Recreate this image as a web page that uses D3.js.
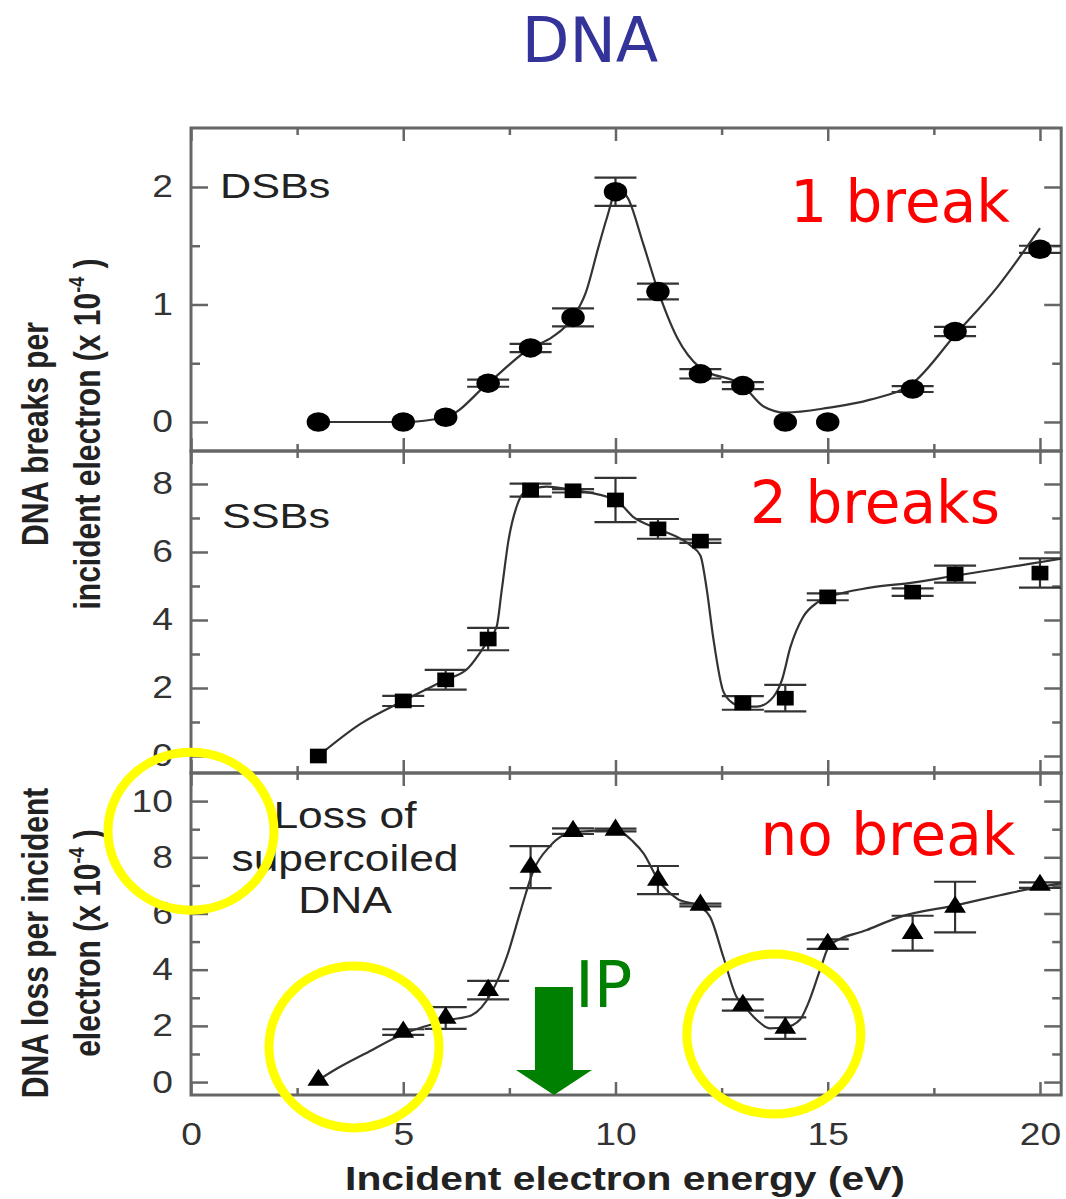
<!DOCTYPE html>
<html>
<head>
<meta charset="utf-8">
<script src="https://cdn.jsdelivr.net/npm/d3@7"></script>
<style>
  html, body { margin: 0; padding: 0; background: #fff; }
  svg { display: block; }
</style>
</head>
<body>
<svg id="chart" width="1066" height="1199"></svg>
<script>
// ---- values ----
const energy = [3, 5, 6, 7, 8, 9, 10, 11, 12, 13, 14, 15, 17, 18, 20];

// DSBs (x 10^-4)
const dsbValues = [0, 0, 0.04, 0.33, 0.63, 0.89, 1.96, 1.11, 0.41, 0.31, 0, 0, 0.28, 0.77, 1.47];
const dsbErrors = [0, 0, 0, 0.03, 0.035, 0.077, 0.12, 0.067, 0.04, 0.03, 0, 0, 0.025, 0.04, 0.03];
const dsbFitX = [3, 5, 6, 7, 8, 8.5, 9, 9.3, 9.6, 9.8, 10.05, 10.3, 10.65, 11, 11.45, 12, 13, 13.5, 14, 15, 16, 17, 18, 19, 20];
const dsbFitY = [0, 0, 0.04, 0.33, 0.63, 0.72, 0.89, 1.1, 1.49, 1.74, 1.99, 1.9, 1.52, 1.12, 0.72, 0.46, 0.31, 0.13, 0.08, 0.12, 0.19, 0.33, 0.74, 1.15, 1.65];

// SSBs
const ssbValues = [0, 1.62, 2.24, 3.44, 7.82, 7.8, 7.53, 6.68, 6.32, 1.56, 1.7, 4.68, 4.82, 5.35, 5.38];
const ssbErrors = [0, 0.15, 0.29, 0.33, 0.19, 0.05, 0.65, 0.29, 0.05, 0.2, 0.39, 0.1, 0.11, 0.25, 0.43];
const ssbFitX = [3, 4, 5, 6, 6.5, 7, 7.2, 7.32, 7.48, 7.67, 7.83, 8.38, 9, 10, 10.45, 11, 11.76, 12.0, 12.15, 12.3, 12.54, 12.77, 13.0, 13.33, 13.72, 13.92, 14.12, 14.42, 14.74, 15.05, 16, 17, 18, 19, 20.5];
const ssbFitY = [0, 0.95, 1.62, 2.24, 2.55, 3.4, 3.8, 4.88, 6.35, 7.33, 7.73, 7.92, 7.82, 7.53, 7.0, 6.68, 6.2, 5.9, 4.9, 3.5, 1.9, 1.55, 1.45, 1.45, 1.74, 2.23, 3.2, 4.09, 4.5, 4.68, 4.95, 5.1, 5.3, 5.5, 5.8];

// Loss of supercoiled DNA
const lossValues = [0.07, 1.78, 2.28, 3.27, 7.65, 8.93, 8.97, 7.19, 6.3, 2.74, 1.92, 4.91, 5.3, 6.23, 7.01];
const lossErrors = [0, 0.1, 0.39, 0.33, 0.75, 0.1, 0.05, 0.5, 0.05, 0.2, 0.38, 0.17, 0.62, 0.9, 0.1];
const lossFitX = [3, 3.45, 4.11, 5.03, 6.07, 6.61, 7.07, 7.44, 7.77, 8.07, 8.44, 8.78, 9.1, 10.0, 10.42, 10.66, 11.01, 11.44, 11.99, 12.23, 12.54, 12.85, 13.01, 13.33, 13.64, 14.0, 14.35, 14.54, 14.82, 15.05, 15.92, 16.7, 18.04, 19.06, 20.0, 20.5];
const lossFitY = [0.07, 0.49, 1.02, 1.73, 2.21, 2.38, 3.16, 4.46, 6.12, 7.54, 8.37, 8.79, 8.91, 8.97, 8.55, 8.14, 7.19, 6.54, 6.24, 5.88, 4.46, 3.04, 2.74, 2.21, 1.91, 1.95, 2.23, 2.8, 3.99, 4.88, 5.41, 5.88, 6.3, 6.65, 6.95, 7.07];

// ticks
const xMajor = [0, 5, 10, 15, 20];
const xMinor = [2.5, 7.5, 12.5, 17.5];
const dsbTicks = [0, 1, 2];
const dsbMinor = [0.5, 1.5];
const ssbTicks = [0, 2, 4, 6, 8];
const ssbMinor = [1, 3, 5, 7];
const lossTicks = [0, 2, 4, 6, 8, 10];
const lossMinor = [1, 3, 5, 7, 9];

// annotations (energy / loss-panel units)
const ipEnergy = 8.55;
const circleX = [0, 3.84, 13.73];
const circleY = [8.93, 1.25, 1.71];

// ---- layout ----
const AXIS_FONT = '"Liberation Sans", Arial, sans-serif';
const NOTE_FONT = '"Comic Sans MS", "DejaVu Sans", sans-serif';
const FRAME = '#666';
const STRETCH = 'scale(1.2,1)';

const svg = d3.select('#chart');
svg.append('rect').attr('width', 1066).attr('height', 1199).attr('fill', '#fff');

const x = d3.scaleLinear().domain([0, 20.5]).range([191, 1061.2]);
const [x0, x1] = x.range();

const panels = [
  { values: dsbValues, errors: dsbErrors, fitX: dsbFitX, fitY: dsbFitY,
    top: 128, bottom: 451, domain: [-0.247, 2.502], major: dsbTicks, minor: dsbMinor,
    marker: d3.symbolCircle, size: 300, mscale: 'scale(1.2,1)' },
  { values: ssbValues, errors: ssbErrors, fitX: ssbFitX, fitY: ssbFitY,
    top: 451, bottom: 773, domain: [-0.5, 8.97], major: ssbTicks, minor: ssbMinor,
    marker: d3.symbolSquare, size: 215, mscale: 'scale(1.15,1)' },
  { values: lossValues, errors: lossErrors, fitX: lossFitX, fitY: lossFitY,
    top: 773, bottom: 1095, domain: [-0.46, 11.0], major: lossTicks, minor: lossMinor,
    marker: d3.symbolTriangle, size: 170, mscale: 'scale(1.1,1)' }
];

function tidy(sel) {
  sel.select('.domain').remove();
  sel.selectAll('line').attr('stroke', FRAME).attr('stroke-width', 2.5);
}

panels.forEach((p, idx) => {
  const y = d3.scaleLinear().domain(p.domain).range([p.bottom, p.top]);
  p.y = y;
  const g = svg.append('g');

  // frame
  g.append('rect')
    .attr('x', x0).attr('y', p.top)
    .attr('width', x1 - x0).attr('height', p.bottom - p.top)
    .attr('fill', 'none').attr('stroke', FRAME).attr('stroke-width', 3);

  // x ticks, inward on top and bottom edges
  g.append('g').attr('transform', `translate(0,${p.top})`)
    .call(d3.axisTop(x).tickValues(xMajor).tickSize(-13).tickFormat('')).call(tidy);
  g.append('g').attr('transform', `translate(0,${p.top})`)
    .call(d3.axisTop(x).tickValues(xMinor).tickSize(-7).tickFormat('')).call(tidy);
  const isLast = idx === panels.length - 1;
  const xb = g.append('g').attr('transform', `translate(0,${p.bottom})`)
    .call(d3.axisBottom(x).tickValues(xMajor).tickSize(-13).tickPadding(28)
      .tickFormat(isLast ? d3.format('d') : ''))
    .call(tidy);
  g.append('g').attr('transform', `translate(0,${p.bottom})`)
    .call(d3.axisBottom(x).tickValues(xMinor).tickSize(-7).tickFormat('')).call(tidy);

  // y ticks, inward on left and right edges
  const yl = g.append('g').attr('transform', `translate(${x0},0)`)
    .call(d3.axisLeft(y).tickValues(p.major).tickSize(-17).tickPadding(15).tickFormat(d3.format('d')))
    .call(tidy);
  g.append('g').attr('transform', `translate(${x0},0)`)
    .call(d3.axisLeft(y).tickValues(p.minor).tickSize(-9).tickFormat('')).call(tidy);
  g.append('g').attr('transform', `translate(${x1},0)`)
    .call(d3.axisRight(y).tickValues(p.major).tickSize(-17).tickFormat('')).call(tidy);
  g.append('g').attr('transform', `translate(${x1},0)`)
    .call(d3.axisRight(y).tickValues(p.minor).tickSize(-9).tickFormat('')).call(tidy);

  [xb, yl].forEach(a => a.selectAll('text')
    .attr('font-family', AXIS_FONT).attr('font-size', 31).attr('fill', '#333')
    .attr('transform', STRETCH));

  // fitted curve
  const line = d3.line().x(d => x(d[0])).y(d => y(d[1])).curve(d3.curveMonotoneX);
  g.append('path')
    .attr('d', line(d3.zip(p.fitX, p.fitY)))
    .attr('fill', 'none').attr('stroke', '#333').attr('stroke-width', 2.2);

  // error bars
  const rows = energy.map((e, i) => ({ e, v: p.values[i], err: p.errors[i] }));
  const withErr = rows.filter(d => d.err > 0);
  const eb = g.append('g').attr('stroke', '#333').attr('stroke-width', 2.2);
  eb.selectAll('line.stem').data(withErr).join('line').attr('class', 'stem')
    .attr('x1', d => x(d.e)).attr('x2', d => x(d.e))
    .attr('y1', d => y(d.v - d.err)).attr('y2', d => y(d.v + d.err));
  eb.selectAll('line.cap').data(withErr.flatMap(d => [d.v - d.err, d.v + d.err].map(v => ({ e: d.e, v }))))
    .join('line').attr('class', 'cap')
    .attr('x1', d => x(d.e) - 21).attr('x2', d => x(d.e) + 21)
    .attr('y1', d => y(d.v)).attr('y2', d => y(d.v));

  // markers
  const sym = d3.symbol().type(p.marker).size(p.size);
  g.append('g').selectAll('path').data(rows).join('path')
    .attr('d', sym)
    .attr('transform', d => `translate(${x(d.e)},${y(d.v)}) ${p.mscale}`)
    .attr('fill', '#000');
});

// panel labels
function stretchedText(txt, tx, ty, size, anchor) {
  return svg.append('text')
    .attr('transform', `translate(${tx},${ty}) ${STRETCH}`)
    .attr('font-family', AXIS_FONT).attr('font-size', size)
    .attr('fill', '#222').attr('text-anchor', anchor || 'start')
    .text(txt);
}
stretchedText('DSBs', 220, 198, 36);
stretchedText('SSBs', 222, 528, 36);
['Loss of', 'supercoiled', 'DNA'].forEach((t, i) => stretchedText(t, 345, 828 + i * 42.5, 37, 'middle'));

// y axis titles (rotated, stretched across)
function yTitle(lines, cy) {
  lines.forEach((ln, i) => {
    const t = svg.append('text')
      .attr('transform', `translate(${i === 0 ? 48 : 100},${cy}) rotate(-90) scale(1,1.2)`)
      .attr('font-family', AXIS_FONT).attr('font-size', 30).attr('font-weight', 'bold')
      .attr('fill', '#222').attr('text-anchor', 'middle');
    if (ln.sup) {
      t.append('tspan').text(ln.text);
      t.append('tspan').attr('dy', -13).attr('font-size', 18).text(ln.sup);
      t.append('tspan').attr('dy', 13).text(ln.after);
    } else {
      t.text(ln.text);
    }
  });
}
yTitle([{ text: 'DNA breaks per' }, { text: 'incident electron (x 10', sup: '-4', after: ' )' }], 434);
yTitle([{ text: 'DNA loss per incident' }, { text: 'electron (x 10', sup: '-4', after: ' )' }], 943);

// x axis title
svg.append('text')
  .attr('transform', `translate(625,1190) ${STRETCH}`)
  .attr('font-family', AXIS_FONT).attr('font-size', 34).attr('font-weight', 'bold')
  .attr('fill', '#222').attr('text-anchor', 'middle')
  .text('Incident electron energy (eV)');

// title and notes
svg.append('text').attr('x', 590).attr('y', 62)
  .attr('font-family', NOTE_FONT).attr('font-size', 62)
  .attr('fill', '#33339a').attr('text-anchor', 'middle').text('DNA');

const notes = [['1 break', 900, 222], ['2 breaks', 875, 523], ['no break', 888, 855]];
svg.selectAll('text.note').data(notes).join('text').attr('class', 'note')
  .attr('x', d => d[1]).attr('y', d => d[2])
  .attr('font-family', NOTE_FONT).attr('font-size', 58)
  .attr('fill', '#ff0000').attr('text-anchor', 'middle')
  .text(d => d[0]);

// IP arrow
const lossY = panels[2].y;
const tipX = x(ipEnergy), tipY = lossY(lossY.domain()[0]);
svg.append('path')
  .attr('d', `M${tipX},${tipY} L${tipX - 38},${tipY - 25} L${tipX - 19},${tipY - 25} L${tipX - 19},${tipY - 108}
              L${tipX + 19},${tipY - 108} L${tipX + 19},${tipY - 25} L${tipX + 38},${tipY - 25} Z`)
  .attr('fill', '#008000');
svg.append('text').attr('x', tipX + 21).attr('y', 1007)
  .attr('font-family', NOTE_FONT).attr('font-size', 64)
  .attr('fill', '#008000').text('IP');

// yellow highlight rings
const rings = d3.zip(circleX, circleY);
const radii = [[83, 79], [85, 81], [87, 80]];
svg.append('g').selectAll('ellipse').data(rings).join('ellipse')
  .attr('cx', d => x(d[0])).attr('cy', d => lossY(d[1]))
  .attr('rx', (d, i) => radii[i][0]).attr('ry', (d, i) => radii[i][1])
  .attr('fill', 'none').attr('stroke', '#ffff00').attr('stroke-width', 9);
</script>
</body>
</html>
